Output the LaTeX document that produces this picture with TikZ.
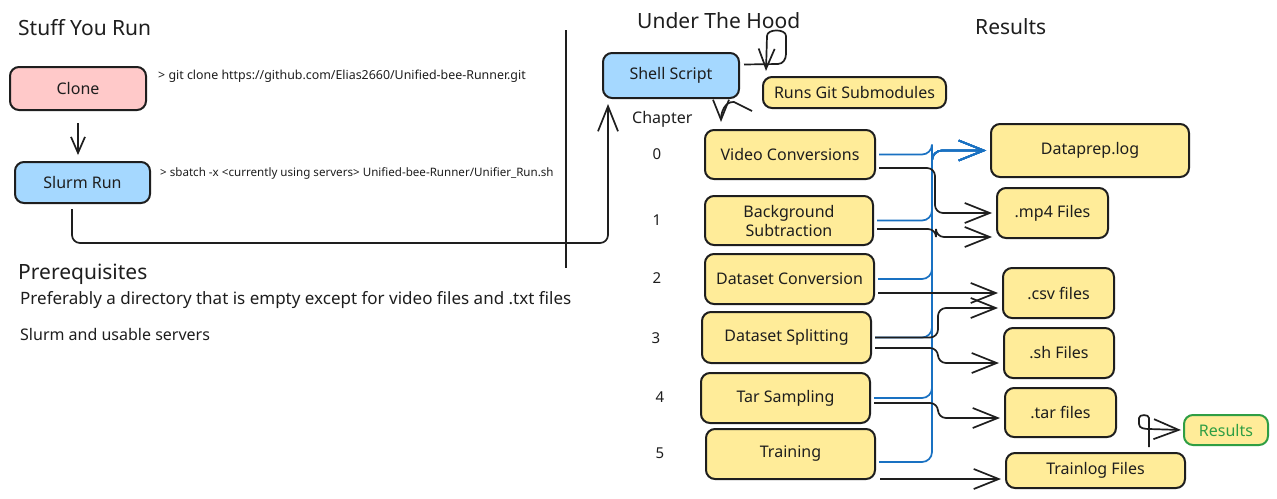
\documentclass[tikz,border=0pt]{standalone}
\usepackage{fontspec}
\setmainfont{Noto Sans}
\usetikzlibrary{arrows.meta}
\definecolor{ink}{HTML}{1E1E1E}
\definecolor{pinkf}{HTML}{FFC9C9}
\definecolor{bluef}{HTML}{A5D8FF}
\definecolor{yelf}{HTML}{FFEC99}
\definecolor{bline}{HTML}{1971C2}
\definecolor{grn}{HTML}{2F9E44}
\tikzset{
  box/.style={draw=ink, line width=2pt, rounded corners=9pt, inner sep=0pt, text=ink, font=\fontsize{16}{19}\selectfont, align=center},
  ybox/.style={box, fill=yelf},
  lbl/.style={anchor=west, inner sep=0pt, text=ink},
  title/.style={lbl, font=\fontsize{21}{24}\selectfont},
  cmd/.style={lbl},
  body/.style={lbl, font=\fontsize{17}{20}\selectfont},
  num/.style={inner sep=0pt, text=ink, font=\fontsize{15}{17}\selectfont},
  big/.tip={Straight Barb[length=25pt,width=20pt,line width=1.7pt]},
  mid/.tip={Straight Barb[length=20pt,width=16pt,line width=1.7pt]},
  small/.tip={Straight Barb[length=16pt,width=14pt,line width=1.7pt]},
  conn/.style={draw=ink, line width=1.7pt, rounded corners=8pt, -big},
  blu/.style={draw=bline, line width=1.7pt, rounded corners=10pt, -big},
}
\begin{document}
\begin{tikzpicture}[x=1pt,y=-1pt]
\useasboundingbox[fill=white] (0,0) rectangle (1277,498);

% titles and texts
\node[title] (t1) at (18,28) {Stuff You Run};
\node[title] (t2) at (637,21) {Under The Hood};
\node[title] (t3) at (975,27) {Results};
\node[title] (t4) at (18,274) {Prerequisites};
\node[body] (p1) at (20,300) {Preferably a directory that is empty except for video files and .txt files};
\node[body, font=\fontsize{16}{19}\selectfont] (p2) at (20,334) {Slurm and usable servers};
\node[cmd, font=\fontsize{12.4}{14}\selectfont] (c1) at (158,76) {> git clone https://github.com/Elias2660/Unified-bee-Runner.git};
\node[cmd, font=\fontsize{11.6}{14}\selectfont] (c2) at (160,173) {> sbatch -x <currently using servers> Unified-bee-Runner/Unifier\_Run.sh};

% left boxes
\node[box, fill=pinkf, minimum width=136pt, minimum height=43pt] (cl) at (78,88.5) {Clone};
\node[box, fill=bluef, minimum width=135pt, minimum height=41pt] (sr) at (82.5,182.5) {Slurm Run};
\draw[draw=ink, line width=1.7pt, -small] ([yshift=-12pt]cl.south) -- ([xshift=-4.5pt,yshift=6pt]sr.north);

% divider
\draw[draw=ink, line width=1.7pt] (566,30) -- (566,268);

% under the hood
\node[box, fill=bluef, minimum width=136pt, minimum height=45pt] (ss) at (671,75.5) {Shell Script};
\node[ybox, minimum width=183pt, minimum height=31pt] (rg) at (854.5,92.5) {Runs Git Submodules};
\draw[draw=ink, line width=1.7pt, rounded corners=8pt, -big] ([xshift=-10.5pt,yshift=-5pt]sr.south) -- ++(0,34) -| ([xshift=6pt,yshift=-5pt]ss.south west);
\draw[draw=ink, line width=1.7pt, -mid]
  ([xshift=4pt,yshift=11pt]ss.east) -- (778,64) to[out=0,in=-90] (786,54) -- (786,36) to[out=90,in=90] (767,36) -- ([xshift=4pt,yshift=5pt]rg.north west);

\node[lbl, font=\fontsize{16}{18}\selectfont] (ch) at (632,119) {Chapter};
\node[num] (n0) at (657,154) {0};
\node[num] (n1) at (657,220) {1};
\node[num] (n2) at (657,278) {2};
\node[num] (n3) at (656,338) {3};
\node[num] (n4) at (660,397) {4};
\node[num] (n5) at (660,453) {5};

\node[ybox, minimum width=170pt, minimum height=49pt] (vc) at (790,154.5) {Video Conversions};
\node[ybox, minimum width=168pt, minimum height=49pt, font=\fontsize{16}{19}\selectfont] (bs) at (789,220.5) {Background\\Subtraction};
\node[ybox, minimum width=169pt, minimum height=50pt] (dc) at (789.5,279) {Dataset Conversion};
\node[ybox, minimum width=169pt, minimum height=51pt] (ds) at (786.5,337.5) {Dataset Splitting};
\node[ybox, minimum width=169pt, minimum height=50pt] (ts) at (785.5,398) {Tar Sampling};
\node[ybox, minimum width=169pt, minimum height=50pt] (tr) at (790.5,454) {Training};

\draw[draw=ink, line width=1.7pt, -mid]
  ([xshift=-10pt,yshift=-2pt]rg.south west) -- (734,102) to[out=175,in=90] ([xshift=17pt,yshift=7pt]vc.north west);

% results
\node[ybox, minimum width=198pt, minimum height=53pt] (dp) at (1090,150.5) {Dataprep.log};
\node[ybox, minimum width=111pt, minimum height=50pt] (mp) at (1052.5,213) {.mp4 Files};
\node[ybox, minimum width=111pt, minimum height=50pt] (cs) at (1058.5,293) {.csv files};
\node[ybox, minimum width=110pt, minimum height=50pt] (sh) at (1059,353) {.sh Files};
\node[ybox, minimum width=111pt, minimum height=49pt] (ta) at (1060.5,412.5) {.tar files};
\node[ybox, minimum width=179pt, minimum height=35pt] (tl) at (1095.5,470.5) {Trainlog Files};
\node[box, fill=yelf, draw=grn, text=grn, minimum width=84pt, minimum height=30pt] (rs) at (1226,430) {Results};

% blue connectors to Dataprep.log
\draw[blu] ([xshift=3pt]vc.east) -- ++(53,0) |- ([xshift=-4pt]dp.west);
\draw[blu] ([xshift=3pt]bs.east) -- ++(55,0) |- ([xshift=-4pt]dp.west);
\draw[blu] ([xshift=3pt]dc.east) -- ++(54,0) |- ([xshift=-4pt]dp.west);
\draw[blu] ([xshift=3pt]ds.east) -- ++(57,0) |- ([xshift=-4pt]dp.west);
\draw[blu] ([xshift=3pt]ts.east) -- ++(58,0) |- ([xshift=-4pt]dp.west);
\draw[blu] ([xshift=3pt,yshift=-8pt]tr.east) -- ++(53,0) |- ([xshift=-4pt]dp.west);

% black connectors
\draw[conn] ([xshift=3pt,yshift=-13.5pt]vc.east) -- ++(56,0) |- ([xshift=-4pt]mp.west);
\draw[conn] ([xshift=3pt,yshift=-8.5pt]bs.east) -- ++(59,0) |- ([xshift=-4pt,yshift=-24pt]mp.west);
\draw[conn] ([xshift=3pt,yshift=-14pt]dc.east) -- ([xshift=-4pt]cs.west);
\draw[conn] ([xshift=3pt]ds.east) -- ++(63,0) |- ([xshift=-4pt,yshift=-15pt]cs.west);
\draw[conn] ([xshift=3pt,yshift=-10.5pt]ds.east) -- ++(63,0) |- ([xshift=-4pt,yshift=-10pt]sh.west);
\draw[conn] ([xshift=3pt,yshift=-5pt]ts.east) -- ++(64,0) |- ([xshift=-4pt,yshift=-5.5pt]ta.west);
\draw[conn] ([xshift=4pt,yshift=-25pt]tr.east) -- ([xshift=-4pt,yshift=-8.5pt]tl.west);

% trainlog -> results
\draw[draw=ink, line width=1.7pt, -big] ([xshift=53.5pt,yshift=5pt]tl.north) -- (1149,418) to[out=90,in=90] (1139,418) -- (1139,424) to[out=-90,in=180] (1149,429) -- ([xshift=-2pt]rs.west);
\end{tikzpicture}
\end{document}
